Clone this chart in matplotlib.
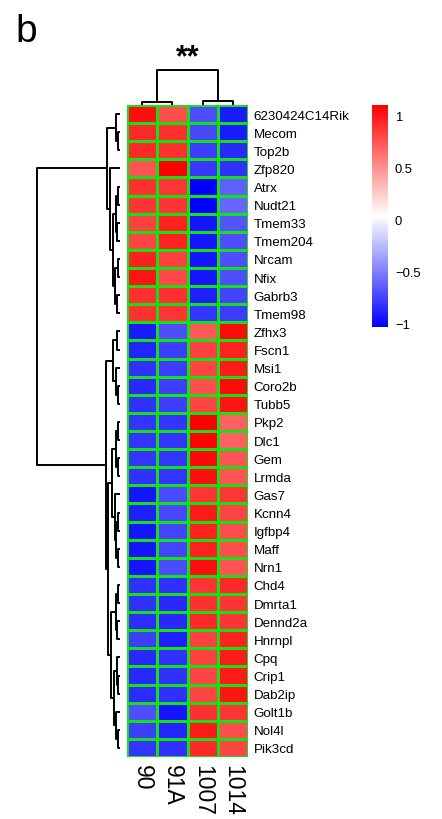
import numpy as np
import matplotlib
matplotlib.use("Agg")
import matplotlib.pyplot as plt
from matplotlib.colors import LinearSegmentedColormap, Normalize

plt.rcParams['font.family'] = ['Liberation Sans', 'DejaVu Sans']

genes = ['6230424C14Rik', 'Mecom', 'Top2b', 'Zfp820', 'Atrx', 'Nudt21', 'Tmem33',
         'Tmem204', 'Nrcam', 'Nfix', 'Gabrb3', 'Tmem98', 'Zfhx3', 'Fscn1', 'Msi1',
         'Coro2b', 'Tubb5', 'Pkp2', 'Dlc1', 'Gem', 'Lrmda', 'Gas7', 'Kcnn4', 'Igfbp4',
         'Maff', 'Nrn1', 'Chd4', 'Dmrta1', 'Dennd2a', 'Hnrnpl', 'Cpq', 'Crip1',
         'Dab2ip', 'Golt1b', 'Nol4l', 'Pik3cd']
samples = ['90', '91A', '1007', '1014']

# scaled expression, columns in the order of samples
s90 = [1.04, 0.93, 0.93, 0.75, 0.90, 0.88, 0.83, 0.81, 0.96, 1.01, 0.90, 0.90,
       -0.92, -0.88, -0.83, -0.86, -0.83, -0.81, -0.81, -0.81, -0.83, -0.945, -0.89, -0.945,
       -0.94, -0.945, -0.83, -0.83, -0.84, -0.765, -0.86, -0.86, -0.84, -0.70, -0.765, -0.81]
s91A = [0.77, 0.90, 0.90, 1.10, 0.88, 0.88, 0.96, 0.96, 0.83, 0.80, 0.90, 0.88,
        -0.70, -0.765, -0.775, -0.765, -0.765, -0.81, -0.81, -0.81, -0.81, -0.71, -0.73, -0.74,
        -0.74, -0.71, -0.83, -0.86, -0.86, -0.89, -0.83, -0.83, -0.83, -0.945, -0.88, -0.83]
s1007 = [-0.70, -0.73, -0.765, -0.79, -1.03, -1.03, -0.945, -0.945, -0.945, -0.945, -0.89, -0.81,
         0.73, 0.83, 0.81, 0.77, 0.81, 1.10, 1.09, 1.06, 1.04, 0.88, 0.99, 0.96,
         0.96, 1.04, 0.88, 0.90, 0.93, 0.83, 0.83, 0.81, 0.81, 0.90, 0.99, 0.93]
s1014 = [-0.92, -0.92, -0.86, -0.83, -0.625, -0.605, -0.68, -0.70, -0.70, -0.70, -0.74, -0.775,
         1.06, 0.96, 0.99, 1.06, 1.01, 0.70, 0.70, 0.75, 0.75, 0.88, 0.81, 0.78,
         0.78, 0.75, 0.93, 0.88, 0.88, 0.96, 0.99, 0.99, 1.01, 0.88, 0.78, 0.81]

# dendrograms: (merge height, left, right), leaves are row / column indices
top_tree = (12.5,
            (4, 0, (1.5, 1, 2)),
            (10, 3, (7, (4, (2, 4, 5), (2.5, 6, 7)), (4.5, (2, 8, 9), (2.5, 10, 11)))))
bottom_tree = (14,
               (7, (3, 12, 13), (4, 14, (2, 15, 16))),
               (12,
                (8, (4, (1.5, 17, 18), (2, 19, 20)), (5, 21, (3.5, (2, 22, 23), (1.5, 24, 25)))),
                (9, (4, (2, 26, 27), (2.5, 28, 29)),
                 (6, (3, 30, (1.5, 31, 32)), (3.5, 33, (2, 34, 35))))))
row_tree = (83, top_tree, bottom_tree)
col_tree = (35, (3, 0, 1), (4.3, 2, 3))

mat = np.array([s90, s91A, s1007, s1014]).T
nrow, ncol = mat.shape

W, H = 442, 820
fig = plt.figure(figsize=(W / 100, H / 100), dpi=100)

def box(x0, y0, x1, y1):
    return [x0 / W, 1 - y1 / H, (x1 - x0) / W, (y1 - y0) / H]

cmap = LinearSegmentedColormap.from_list('bwr2', ['#0000FF', '#FFFFFF', '#FF0000'])
norm = Normalize(vmin=-1.03, vmax=1.10)

ax = fig.add_axes(box(127, 106, 248, 758))
mesh = ax.pcolormesh(mat, cmap=cmap, norm=norm, edgecolors='#16E016', linewidth=2.0)
ax.set_xlim(0, ncol)
ax.set_ylim(nrow, 0)
for s in ax.spines.values():
    s.set_visible(False)
ax.yaxis.tick_right()
ax.set_yticks(np.arange(nrow) + 0.5)
ax.set_yticklabels(genes, fontsize=9.6)
ax.set_xticks(np.arange(ncol) + 0.5)
ax.set_xticklabels(samples, rotation=270, fontsize=16.5, va='top', ha='center')
ax.tick_params(length=0)
ax.tick_params(axis='y', pad=4)
ax.tick_params(axis='x', pad=5)


def draw(node, axd, orient):
    if isinstance(node, int):
        return node + 0.5, 0.0
    h, a, b = node
    pa, ha = draw(a, axd, orient)
    pb, hb = draw(b, axd, orient)
    hs = [ha, h, h, hb]
    ps = [pa, pa, pb, pb]
    if orient == 'row':
        axd.plot(hs, ps, color='black', lw=1.4, clip_on=False, solid_capstyle='butt')
    else:
        axd.plot(ps, hs, color='black', lw=1.4, clip_on=False, solid_capstyle='butt')
    return (pa + pb) / 2, h


axr = fig.add_axes(box(37, 106, 120, 758))
draw(row_tree, axr, 'row')
axr.set_xlim(row_tree[0], 0)
axr.set_ylim(nrow, 0)
axr.axis('off')

axc = fig.add_axes(box(127, 71, 248, 106))
draw(col_tree, axc, 'col')
axc.set_xlim(0, ncol)
axc.set_ylim(0, col_tree[0])
axc.axis('off')

cax = fig.add_axes(box(372, 106, 388, 328))
cb = fig.colorbar(mesh, cax=cax, ticks=[-1, -0.5, 0, 0.5, 1])
cb.outline.set_visible(False)
cb.ax.set_yticklabels(['\u22121', '\u22120.5', '0', '0.5', '1'])
cb.ax.tick_params(length=0, labelsize=9.4, pad=5)

fig.text(15 / W, 1 - 42 / H, 'b', fontsize=28, va='baseline', ha='left')
fig.text(188 / W, 1 - 58 / H, '**', fontsize=22, fontweight='bold', va='center', ha='center')

fig.savefig('out.png', dpi=100)
